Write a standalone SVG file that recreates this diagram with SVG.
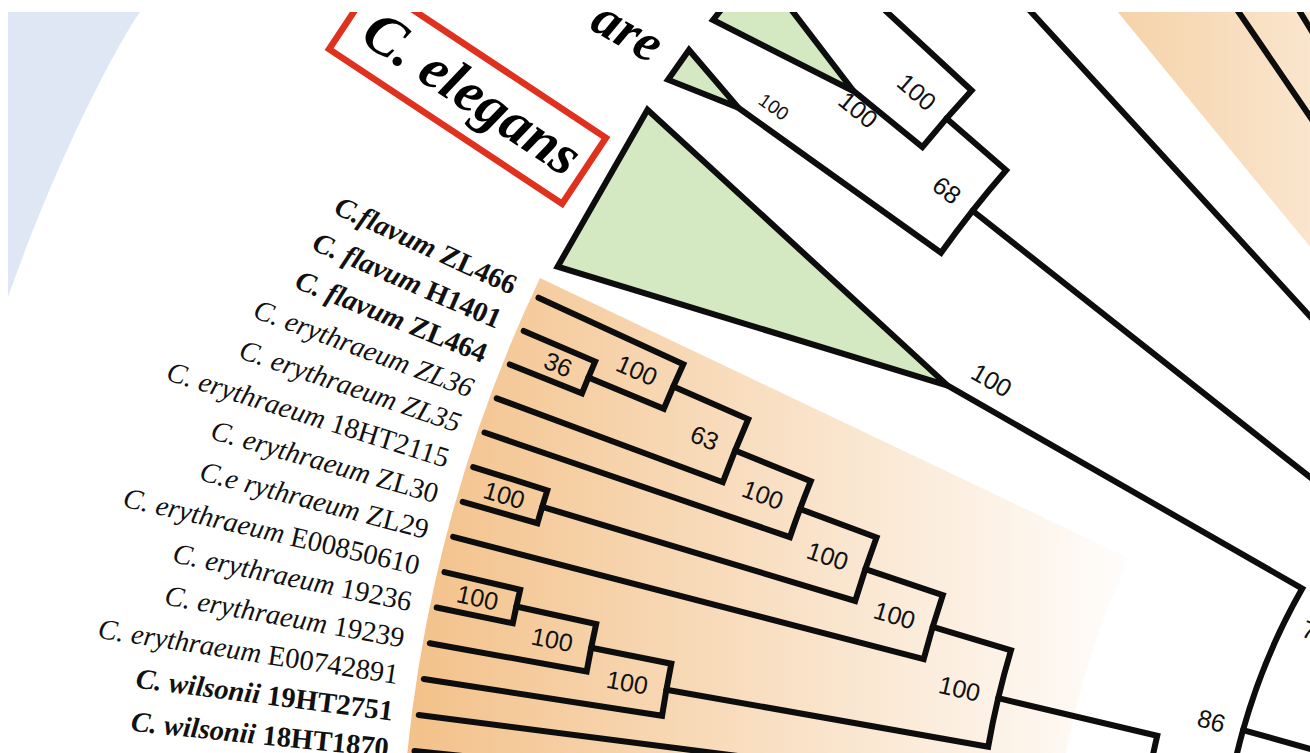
<svg xmlns="http://www.w3.org/2000/svg" width="1310" height="753" viewBox="0 0 1310 753">
  <defs>
    <clipPath id="frame">
      <rect x="8" y="12" width="1302" height="741"/>
    </clipPath>
    <linearGradient id="fadeMain" gradientUnits="userSpaceOnUse" x1="405" y1="0" x2="1150" y2="0">
      <stop offset="0" stop-color="#f3c189"/>
      <stop offset="1" stop-color="#ffffff"/>
    </linearGradient>
    <linearGradient id="fadeTop" gradientUnits="userSpaceOnUse" x1="1110" y1="0" x2="1310" y2="0">
      <stop offset="0" stop-color="#f5d2a7"/>
      <stop offset="1" stop-color="#fae5cd"/>
    </linearGradient>
    <style>
      .br { fill: none; stroke: #0d0d0d; stroke-width: 6; stroke-linecap: round; stroke-linejoin: miter; }
      .tri { fill: #d4e8c1; stroke: #0d0d0d; stroke-width: 6; stroke-linejoin: miter; }
      .bs { font-family: "Liberation Sans", Arial, sans-serif; font-size: 25px; fill: #111; }
      .lf { font-family: "Liberation Serif", "Times New Roman", serif; font-size: 28.5px; font-style: italic; fill: #111; }
      .b { font-weight: bold; }
      .up { font-style: normal; }
      .big { font-family: "Liberation Serif", "Times New Roman", serif; font-weight: bold; font-style: italic; fill: #000; }
    </style>
  </defs>

  <rect width="1310" height="753" fill="#ffffff"/>

  <g clip-path="url(#frame)">
    <!-- outer ring shading, top-left -->
    <path id="ring-shade" d="M8 12H140C120 40 60 150 8 297Z" fill="#dee7f3"/>

    <!-- clade shading wedges -->
    <path id="clade-shade-main" d="M540 278A1443 1443 0 0 0 400 898L1053 898A790 790 0 0 1 1129.7 558.5Z" fill="url(#fadeMain)"/>
    <path id="clade-shade-top" d="M892.9 -262.8L1399.6 356.3L1400 -300Z" fill="url(#fadeTop)"/>

    <!-- collapsed clades -->
    <g id="clade-top">
      <polygon class="tri" points="713,20 756.9,-35.2 853.7,91.2"/>
    </g>
    <g id="clade-small">
      <polygon class="tri" points="668,79.7 689,50 738.3,107.6"/>
    </g>
    <g id="clade-big">
      <polygon class="tri" points="557.6,266.7 647.5,109.7 947.7,385.6"/>
    </g>

    <!-- tree drawn in polar form around the root centre -->
    <g id="tree" transform="translate(1843 898)">
      <g id="connectors">
        <path class="br" transform="rotate(21.812)" d="M-1436 0H-1358.3A1358.3 1358.3 0 0 1 -1357.87 -34.35L-1435.54 -36.31"/>
        <path class="br" transform="rotate(16.016)" d="M-1436 0H-1358.3A1358.3 1358.3 0 0 1 -1357.87 -34.35L-1435.54 -36.31"/>
        <path class="br" transform="rotate(11.669)" d="M-1436 0H-1358.3A1358.3 1358.3 0 0 1 -1357.87 -34.35L-1435.54 -36.31"/>
        <path class="br" transform="rotate(22.5365)" d="M-1358.3 0H-1276.6A1276.6 1276.6 0 0 1 -1275.68 -48.43L-1434.97 -54.47"/>
        <path class="br" transform="rotate(10.22)" d="M-1436 0H-1276.6A1276.6 1276.6 0 0 1 -1275.68 -48.42L-1357.32 -51.51"/>
        <path class="br" transform="rotate(20.363)" d="M-1436 0H-1194.9A1194.9 1194.9 0 0 1 -1192.97 -67.95L-1274.53 -72.6"/>
        <path class="br" transform="rotate(8.771)" d="M-1436 0H-1194.9A1194.9 1194.9 0 0 1 -1193.73 -52.87L-1275.35 -56.49"/>
        <path class="br" transform="rotate(18.914)" d="M-1436 0H-1113.2A1113.2 1113.2 0 0 1 -1111.59 -59.79L-1193.17 -64.18"/>
        <path class="br" transform="rotate(16.7405)" d="M-1358.3 0H-1031.5A1031.5 1031.5 0 0 1 -1029.33 -66.8L-1110.86 -72.09"/>
        <path class="br" transform="rotate(14.567)" d="M-1436 0H-949.8A949.8 949.8 0 0 1 -947.45 -66.75L-1028.95 -72.49"/>
        <path class="br" transform="rotate(10.0389)" d="M-1194.9 0H-868.1A868.1 868.1 0 0 1 -862.45 -98.92L-943.61 -108.23"/>
        <path class="br" transform="rotate(13.3105)" d="M-868.1 0H-704.7A704.7 704.7 0 0 0 -697.3 101.86"/>
        <path class="br" transform="rotate(7.322)" d="M-1436 0H-1031.5"/>
        <path class="br" transform="rotate(5.873)" d="M-1436 0H-1031.5"/>
        <path class="br" transform="rotate(29.78)" d="M-1031.5 0H-623A623 623 0 0 0 -548.64 295.16"/>
        <path class="br" transform="rotate(15.64)" d="M-623 0H-541.3"/>
        <path class="br" transform="rotate(39.2)" d="M-1276.6 0H-1188A1188 1188 0 0 1 -1185.63 -75.01L-1355.59 -85.76"/>
        <path class="br" transform="rotate(35.5775)" d="M-1358.3 0H-1109A1109 1109 0 0 1 -1104.02 -104.99L-1182.66 -112.47"/>
        <path class="br" transform="rotate(38.294)" d="M-1109 0H-541.3"/>
        <path class="br" transform="rotate(47.5)" d="M-1358.3 0H-620"/>
        <path class="br" transform="rotate(55.7)" d="M-1358.3 0H-600"/>
        <path class="br" transform="rotate(58.5)" d="M-1358.3 0H-600"/>
      </g>

      <g id="support-values">
        <text class="bs" transform="rotate(22.5365)" x="-1377.3" y="8.5" text-anchor="end">36</text>
        <text class="bs" transform="rotate(23.623)" x="-1295.6" y="8.5" text-anchor="end">100</text>
        <text class="bs" transform="rotate(21.993)" x="-1213.9" y="8.5" text-anchor="end">63</text>
        <text class="bs" transform="rotate(20.4535)" x="-1132.2" y="8.5" text-anchor="end">100</text>
        <text class="bs" transform="rotate(16.7405)" x="-1377.3" y="8.5" text-anchor="end">100</text>
        <text class="bs" transform="rotate(18.597)" x="-1050.5" y="8.5" text-anchor="end">100</text>
        <text class="bs" transform="rotate(16.582)" x="-968.8" y="8.5" text-anchor="end">100</text>
        <text class="bs" transform="rotate(12.3935)" x="-1377.3" y="8.5" text-anchor="end">100</text>
        <text class="bs" transform="rotate(11.307)" x="-1295.6" y="8.5" text-anchor="end">100</text>
        <text class="bs" transform="rotate(10.039)" x="-1213.9" y="8.5" text-anchor="end">100</text>
        <text class="bs" transform="rotate(13.3105)" x="-887.1" y="8.5" text-anchor="end">100</text>
        <text class="bs" transform="rotate(15.64)" x="-642" y="8.5" text-anchor="end">86</text>
        <text class="bs" transform="rotate(38.294)" x="-1128" y="8.5" text-anchor="end">68</text>
        <text class="bs" transform="rotate(41.01)" x="-1207" y="8.5" text-anchor="end">100</text>
      </g>

      <g id="leaf-labels">
        <g id="leaf-zl466"><text class="lf b" transform="rotate(24.71)" x="-1462" y="9" text-anchor="end">C.flavum <tspan class="up">ZL466</tspan></text></g>
        <g id="leaf-h1401"><text class="lf b" transform="rotate(23.261)" x="-1462" y="9" text-anchor="end">C. flavum <tspan class="up">H1401</tspan></text></g>
        <g id="leaf-zl464"><text class="lf b" transform="rotate(21.812)" x="-1462" y="9" text-anchor="end">C. flavum <tspan class="up">ZL464</tspan></text></g>
        <g id="leaf-zl36"><text class="lf" transform="rotate(20.363)" x="-1462" y="9" text-anchor="end">C. erythraeum ZL36</text></g>
        <g id="leaf-zl35"><text class="lf" transform="rotate(18.914)" x="-1462" y="9" text-anchor="end">C. erythraeum ZL35</text></g>
        <g id="leaf-18ht2115"><text class="lf" transform="rotate(17.465)" x="-1462" y="9" text-anchor="end">C. erythraeum <tspan class="up">18HT2115</tspan></text></g>
        <g id="leaf-zl30"><text class="lf" transform="rotate(16.016)" x="-1462" y="9" text-anchor="end">C. erythraeum <tspan class="up">ZL30</tspan></text></g>
        <g id="leaf-zl29"><text class="lf" transform="rotate(14.567)" x="-1462" y="9" text-anchor="end">C.e rythraeum <tspan class="up">ZL29</tspan></text></g>
        <g id="leaf-e00850610"><text class="lf" transform="rotate(13.118)" x="-1462" y="9" text-anchor="end">C. erythraeum <tspan class="up">E00850610</tspan></text></g>
        <g id="leaf-19236"><text class="lf" transform="rotate(11.669)" x="-1462" y="9" text-anchor="end">C. erythraeum <tspan class="up">19236</tspan></text></g>
        <g id="leaf-19239"><text class="lf" transform="rotate(10.22)" x="-1462" y="9" text-anchor="end">C. erythraeum <tspan class="up">19239</tspan></text></g>
        <g id="leaf-e00742891"><text class="lf" transform="rotate(8.771)" x="-1462" y="9" text-anchor="end">C. erythraeum <tspan class="up">E00742891</tspan></text></g>
        <g id="leaf-19ht2751"><text class="lf b" transform="rotate(7.322)" x="-1462" y="9" text-anchor="end">C. wilsonii <tspan class="up">19HT2751</tspan></text></g>
        <g id="leaf-18ht1870"><text class="lf b" transform="rotate(5.873)" x="-1462" y="9" text-anchor="end">C. wilsonii <tspan class="up">18HT1870</tspan></text></g>
      </g>
    </g>

    <!-- support values at collapsed-clade roots -->
    <g id="clade-support">
      <text class="bs" transform="translate(858 110) rotate(39.2)" y="8.5" text-anchor="middle">100</text>
      <text class="bs" transform="translate(774 106.5) rotate(35.6)" y="7" text-anchor="middle" style="font-size:19px">100</text>
      <text class="bs" transform="translate(991.5 380.5) rotate(29.8)" y="8.5" text-anchor="middle">100</text>
      <text class="bs" transform="translate(1300 636) rotate(20)">7</text>
    </g>

    <!-- group name labels -->
    <g id="label-are">
      <text class="big" transform="translate(588 28) rotate(30)" style="font-size:54px">are</text>
    </g>
    <g id="label-elegans" transform="translate(467.5 93.5) rotate(33.58)">
      <rect x="-139.85" y="-39.55" width="279.7" height="79.1" fill="none" stroke="#e0301e" stroke-width="6.5"/>
      <text class="big" x="4" y="16" text-anchor="middle" style="font-size:58px">C. elegans</text>
    </g>
  </g>
</svg>
